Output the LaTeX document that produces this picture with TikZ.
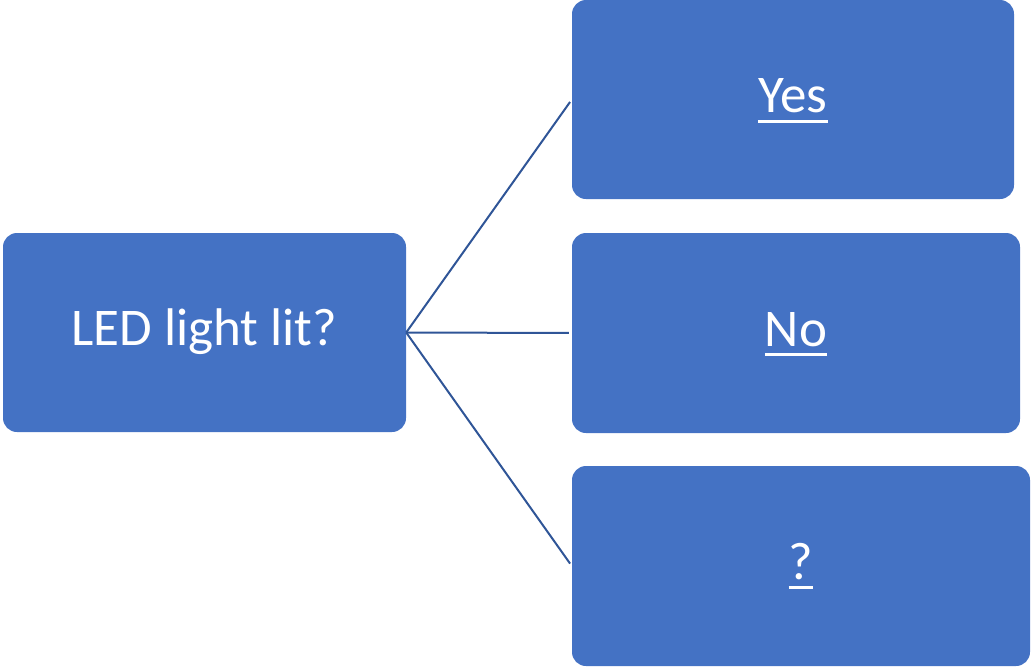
\documentclass[tikz,border=0pt]{standalone}
\usepackage{fontspec}
\setmainfont{Carlito}
\definecolor{boxblue}{HTML}{4472C4}
\definecolor{lineblue}{HTML}{2F5597}
\newcommand\ulx[1]{\setbox0\hbox{#1}\rlap{#1}\rule[-10pt]{\wd0}{3pt}}
\begin{document}
\begin{tikzpicture}[x=1pt,y=-1pt,
  box/.style={rectangle, rounded corners=14pt, fill=boxblue, text=white,
    font=\fontsize{53}{60}\selectfont, inner sep=0pt, minimum height=199pt,
    text height=36pt, text depth=10pt},
  conn/.style={draw=lineblue, line width=2pt}]
\useasboundingbox (0,0) rectangle (1031,667);
\node[box, minimum width=403pt] (led) at (204.5,332.5) {LED light lit?};
\node[box, minimum width=442pt] (yes) at (793,99.5) {\ulx{Yes}};
\node[box, minimum width=448pt, minimum height=200pt] (no) at (796,333) {\ulx{No}};
\node[box, minimum width=458pt, minimum height=200pt] (q) at (801,566) {\ulx{?}};
\draw[conn, shorten >=3pt] (led.east) -- (yes.west);
\draw[conn, shorten >=3pt] (led.east) -- (no.west);
\draw[conn, shorten >=3pt] (led.east) -- (q.west);
\end{tikzpicture}
\end{document}
